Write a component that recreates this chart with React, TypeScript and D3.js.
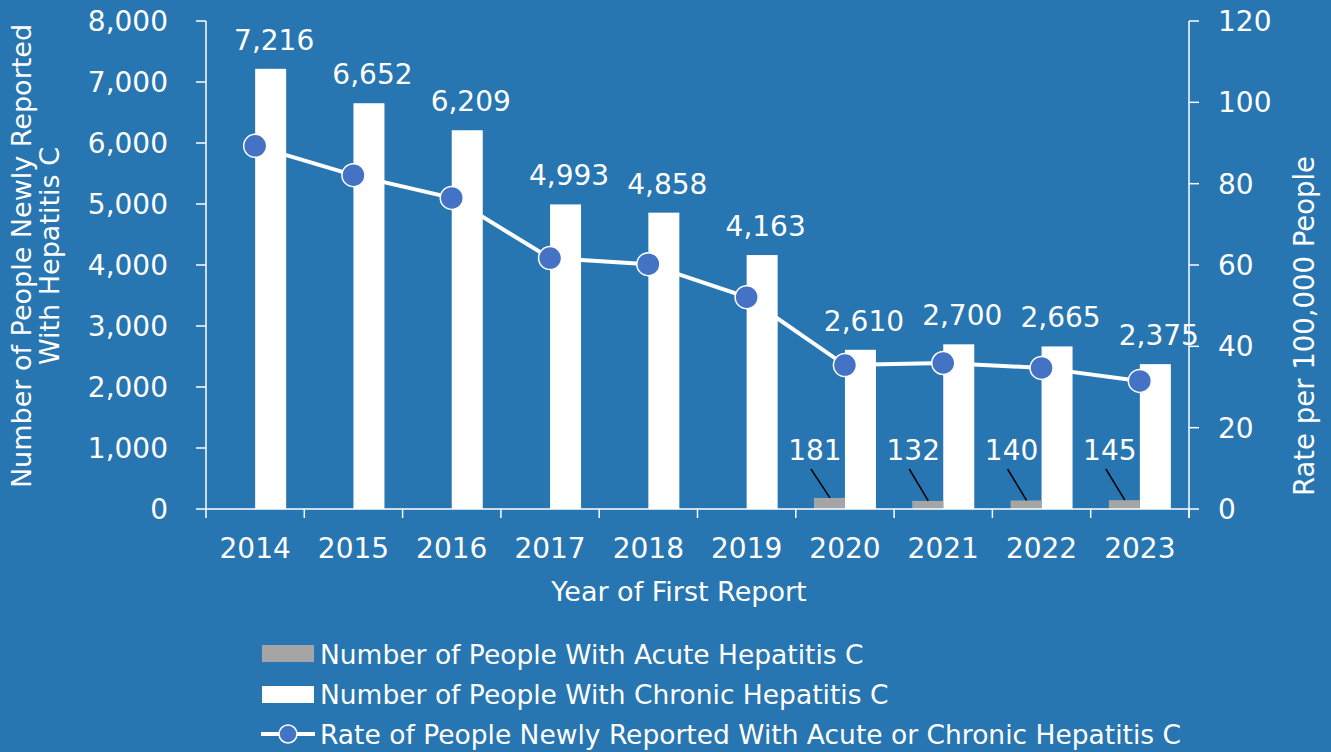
import React from "react";
import * as d3 from "d3";

const years = ["2014","2015","2016","2017","2018","2019","2020","2021","2022","2023"];
const chronic = [7216, 6652, 6209, 4993, 4858, 4163, 2610, 2700, 2665, 2375];
const acute = [0, 0, 0, 0, 0, 0, 181, 132, 140, 145];
const rate = [89.3, 82.1, 76.5, 61.7, 60.2, 52.1, 35.4, 35.9, 34.7, 31.5];
const leftTicks = [0, 1000, 2000, 3000, 4000, 5000, 6000, 7000, 8000];
const rightTicks = [0, 20, 40, 60, 80, 100, 120];
const legendLabels = [
  "Number of People With Acute Hepatitis C",
  "Number of People With Chronic Hepatitis C",
  "Rate of People Newly Reported With Acute or Chronic Hepatitis C",
];

const BG = "#2876b1";
const FONT = "'DejaVu Sans', 'Liberation Sans', Arial, sans-serif";

export default function App() {
  const W = 1331, H = 752;
  const x0 = 206, x1 = 1189, yTop = 21, yBot = 509;
  const x = d3.scaleBand().domain(years).range([x0, x1]).paddingInner(0).paddingOuter(0);
  const yL = d3.scaleLinear().domain([0, 8000]).range([yBot, yTop]);
  const yR = d3.scaleLinear().domain([0, 120]).range([yBot, yTop]);
  const bw = 31;
  const cx = (y: string) => (x(y) as number) + x.bandwidth() / 2;
  const line = d3.line<number>().x((_, i) => cx(years[i])).y((d) => yR(d));
  const fmt = d3.format(",");
  const NUM = 28;

  return (
    <svg width={W} height={H} style={{ position: "absolute", left: 0, top: 0, background: BG }} fontFamily={FONT}>
      <rect x={0} y={0} width={W} height={H} fill={BG} />
      {years.map((y, i) => (
        <rect key={"c" + y} x={cx(y)} y={yL(chronic[i])} width={bw} height={yBot - yL(chronic[i])} fill="#ffffff" />
      ))}
      {years.map((y, i) =>
        acute[i] > 0 ? (
          <rect key={"a" + y} x={cx(y) - bw} y={yL(acute[i])} width={bw} height={yBot - yL(acute[i])} fill="#a5a5a5" />
        ) : null
      )}
      {years.map((y, i) => (
        <text key={"cl" + y} x={cx(y) + 19} y={yL(chronic[i]) - 19} textAnchor="middle" fontSize={NUM} fill="#fff">
          {fmt(chronic[i])}
        </text>
      ))}
      {years.map((y, i) =>
        acute[i] > 0 ? (
          <g key={"al" + y}>
            <text x={cx(y) - 30} y={460} textAnchor="middle" fontSize={NUM} fill="#fff">{acute[i]}</text>
            <line x1={cx(y) - 34} y1={469} x2={cx(y) - 15} y2={yL(acute[i])} stroke="#000" strokeWidth={1.5} />
          </g>
        ) : null
      )}
      <path d={line(rate) as string} fill="none" stroke="#fff" strokeWidth={4} />
      {rate.map((r, i) => (
        <circle key={"p" + i} cx={cx(years[i])} cy={yR(r)} r={11.5} fill="#4472c4" stroke="#fff" strokeWidth={1.5} />
      ))}
      <line x1={x0} y1={yTop} x2={x0} y2={yBot} stroke="#fff" strokeWidth={1.5} />
      {leftTicks.map((t) => (
        <g key={"lt" + t}>
          <line x1={x0 - 10} x2={x0} y1={yL(t)} y2={yL(t)} stroke="#fff" strokeWidth={1.5} />
          <text x={168} y={yL(t)} dy="0.36em" textAnchor="end" fontSize={NUM} fill="#fff">{fmt(t)}</text>
        </g>
      ))}
      <line x1={x1} y1={yTop} x2={x1} y2={yBot + 9} stroke="#fff" strokeWidth={1.5} />
      {rightTicks.map((t) => (
        <g key={"rt" + t}>
          <line x1={x1} x2={x1 + 10} y1={yR(t)} y2={yR(t)} stroke="#fff" strokeWidth={1.5} />
          <text x={1218} y={yR(t)} dy="0.36em" textAnchor="start" fontSize={NUM} fill="#fff">{t}</text>
        </g>
      ))}
      <line x1={x0} y1={yBot} x2={x1} y2={yBot} stroke="#fff" strokeWidth={1.5} />
      {[...years.map((y) => x(y) as number), x1].map((p, i) => (
        <line key={"xt" + i} x1={p} x2={p} y1={yBot} y2={yBot + 9} stroke="#fff" strokeWidth={1.5} />
      ))}
      {years.map((y) => (
        <text key={"xl" + y} x={cx(y)} y={558} textAnchor="middle" fontSize={NUM} fill="#fff">{y}</text>
      ))}
      <text x={679} y={601} textAnchor="middle" fontSize={27} fill="#fff">Year of First Report</text>
      <text transform="translate(31,256) rotate(-90)" textAnchor="middle" fontSize={27} fill="#fff">
        Number of People Newly Reported
      </text>
      <text transform="translate(59,256) rotate(-90)" textAnchor="middle" fontSize={27} fill="#fff">
        With Hepatitis C
      </text>
      <text transform="translate(1314,326) rotate(-90)" textAnchor="middle" fontSize={27.5} fill="#fff">
        Rate per 100,000 People
      </text>
      <rect x={262} y={645} width={52} height={17} fill="#a5a5a5" />
      <rect x={262} y={686} width={52} height={17} fill="#ffffff" />
      <line x1={261} x2={315} y1={734} y2={734} stroke="#fff" strokeWidth={4} />
      <circle cx={288} cy={734} r={9} fill="#4472c4" stroke="#fff" strokeWidth={1.5} />
      {legendLabels.map((l, i) => (
        <text key={"lg" + i} x={320} y={654 + i * 40} dy="0.36em" fontSize={26.5} fill="#fff">{l}</text>
      ))}
    </svg>
  );
}
